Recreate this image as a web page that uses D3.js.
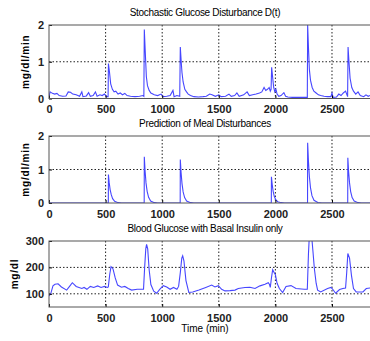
<!DOCTYPE html>
<html>
<head>
<meta charset="utf-8">
<script src="https://cdn.jsdelivr.net/npm/d3@7"></script>
<style>
  body { margin: 0; background: #fff; }
  text { font-family: "Liberation Sans", Arial, sans-serif; }
</style>
</head>
<body>
<div class="graphContainer"></div>
<script>
// data: [time (min), value]
var disturbance = [
  [0,0.05],[10,0.18],[30,0.14],[50,0.12],[70,0.14],[90,0.08],[120,0.06],[150,0.07],[170,0.18],[190,0.17],
  [210,0.12],[240,0.10],[270,0.06],[290,0.18],[300,0.05],[330,0.07],[350,0.16],[365,0.06],[390,0.08],[410,0.18],
  [425,0.06],[450,0.10],[470,0.08],[490,0.12],[510,0.05],[522,0.05],[525,0.95],[535,0.7],[545,0.4],[560,0.25],
  [575,0.18],[590,0.20],[610,0.12],[630,0.15],[650,0.10],[670,0.14],[690,0.08],[720,0.06],[760,0.05],[800,0.06],
  [830,0.08],[838,0.06],[842,1.88],[850,1.3],[860,0.6],[870,0.35],[885,0.22],[900,0.15],[930,0.10],[960,0.08],
  [990,0.12],[1010,0.05],[1040,0.06],[1070,0.08],[1095,0.22],[1105,0.05],[1130,0.08],[1155,0.06],[1160,1.4],[1168,1.0],
  [1175,0.7],[1185,0.45],[1200,0.25],[1215,0.18],[1230,0.12],[1250,0.08],[1280,0.05],[1320,0.04],[1360,0.05],[1390,0.06],
  [1420,0.12],[1440,0.10],[1470,0.06],[1500,0.10],[1520,0.05],[1560,0.06],[1590,0.12],[1610,0.06],[1640,0.08],[1660,0.15],
  [1680,0.06],[1720,0.10],[1750,0.18],[1770,0.08],[1800,0.10],[1830,0.12],[1860,0.15],[1880,0.18],[1900,0.30],[1915,0.22],
  [1930,0.25],[1945,0.30],[1955,0.20],[1962,0.25],[1967,0.85],[1975,0.6],[1985,0.3],[1995,0.18],[2005,0.25],[2015,0.12],
  [2030,0.06],[2050,0.08],[2075,0.16],[2090,0.06],[2110,0.04],[2150,0.03],[2200,0.03],[2250,0.03],[2282,0.03],[2285,2.0],
  [2292,1.4],[2300,0.8],[2310,0.5],[2325,0.3],[2340,0.2],[2360,0.15],[2380,0.10],[2400,0.08],[2430,0.06],[2460,0.05],
  [2490,0.05],[2500,0.15],[2510,0.03],[2540,0.04],[2560,0.12],[2580,0.08],[2600,0.15],[2620,0.20],[2638,0.05],[2642,1.4],
  [2650,1.0],[2660,0.55],[2675,0.3],[2690,0.2],[2710,0.12],[2730,0.18],[2750,0.08],[2780,0.05],[2800,0.1],[2820,0.06],
  [2850,0.10],[2880,0.08]
];

var prediction = [
  [0,0],[524,0],[525,0.85],[532,0.6],[540,0.4],[550,0.25],[562,0.13],[580,0.05],[610,0.01],[640,0],
  [841,0],[842,1.38],[849,0.95],[857,0.6],[867,0.35],[880,0.17],[898,0.06],[930,0.01],[960,0],
  [1159,0],[1160,1.3],[1167,0.9],[1175,0.58],[1185,0.33],[1198,0.16],[1216,0.06],[1250,0.01],[1280,0],
  [1964,0],[1965,0.78],[1972,0.55],[1980,0.35],[1990,0.2],[2003,0.1],[2020,0.04],[2050,0.01],[2080,0],
  [2284,0],[2285,1.8],[2292,1.25],[2300,0.8],[2310,0.46],[2323,0.22],[2341,0.08],[2375,0.015],[2410,0],
  [2639,0],[2640,1.35],[2647,0.93],[2655,0.6],[2665,0.34],[2678,0.16],[2696,0.06],[2730,0.01],[2760,0],
  [2880,0]
];

var glucose = [
  [0,92],[15,100],[35,130],[53,136],[80,138],[110,126],[156,114],[185,130],[206,142],[240,128],
  [290,120],[310,124],[335,117],[365,128],[395,124],[430,130],[460,124],[490,128],[515,124],[524,126],
  [537,175],[548,203],[565,195],[585,160],[606,133],[640,125],[670,128],[700,120],[730,114],[780,117],
  [835,117],[845,200],[855,270],[862,287],[872,270],[885,190],[900,135],[925,110],[951,102],[980,118],
  [1010,131],[1040,126],[1070,117],[1100,124],[1130,117],[1145,128],[1160,180],[1173,235],[1181,244],[1192,225],
  [1210,150],[1235,105],[1270,107],[1325,114],[1385,124],[1437,133],[1466,126],[1496,131],[1525,117],[1555,111],
  [1600,112],[1643,114],[1672,120],[1731,124],[1775,125],[1820,120],[1864,130],[1908,136],[1937,142],[1948,135],
  [1955,124],[1965,160],[1976,191],[1990,180],[2000,172],[2015,140],[2035,120],[2064,105],[2094,128],[2138,131],
  [2182,120],[2255,117],[2282,117],[2292,250],[2300,320],[2320,320],[2332,260],[2344,197],[2360,140],[2373,114],
  [2400,107],[2461,120],[2491,124],[2505,118],[2532,102],[2567,116],[2596,120],[2620,122],[2630,180],[2640,253],
  [2655,235],[2672,170],[2690,120],[2714,107],[2773,107],[2803,120],[2840,122],[2880,140]
];

var titles = ["Stochastic Glucose Disturbance D(t)", "Prediction of Meal Disturbances", "Blood Glucose with Basal Insulin only"];
var yLabels = ["mg/dl/min", "mg/dl/min", "mg/dl"];
var xTicks = [0, 500, 1000, 1500, 2000, 2500];
var yTicksD = [0, 1, 2];
var yTicksG = [100, 200, 300];

var width = 370;
var height = 341;
var left = 49;
var right = 375;

var svg = d3
  .select(".graphContainer")
  .append("svg")
  .attr("width", width)
  .attr("height", height);

var xScale = d3.scaleLinear().domain([0, 2880]).range([left, right]);

var panels = [
  { data: disturbance, top: 25, bottom: 98.5, domain: [0, 2], ticks: yTicksD, grid: [1], labelX: 29 },
  { data: prediction, top: 136, bottom: 203, domain: [0, 2], ticks: yTicksD, grid: [1], labelX: 29 },
  { data: glucose, top: 241, bottom: 307, domain: [50, 300], ticks: yTicksG, grid: [100, 200], labelX: 18 }
];

panels.forEach(function (p, i) {
  var yScale = d3.scaleLinear().domain(p.domain).range([p.bottom, p.top]);
  var g = svg.append("g");

  // clip
  svg
    .append("clipPath")
    .attr("id", "clip" + i)
    .append("rect")
    .attr("x", left)
    .attr("y", p.top)
    .attr("width", right - left)
    .attr("height", p.bottom - p.top);

  // grid
  g.selectAll(".vgrid")
    .data(xTicks.slice(1))
    .enter()
    .append("line")
    .attr("x1", (d) => xScale(d))
    .attr("x2", (d) => xScale(d))
    .attr("y1", p.top)
    .attr("y2", p.bottom)
    .attr("stroke", "#222")
    .attr("stroke-width", 1)
    .attr("stroke-dasharray", "1.5,2");
  g.selectAll(".hgrid")
    .data(p.grid)
    .enter()
    .append("line")
    .attr("x1", left)
    .attr("x2", right)
    .attr("y1", (d) => yScale(d))
    .attr("y2", (d) => yScale(d))
    .attr("stroke", "#222")
    .attr("stroke-width", 1)
    .attr("stroke-dasharray", "1.5,2");

  // line
  var line = d3
    .line()
    .x((d) => xScale(d[0]))
    .y((d) => yScale(d[1]));
  g.append("path")
    .datum(p.data)
    .attr("d", line)
    .attr("clip-path", "url(#clip" + i + ")")
    .attr("fill", "none")
    .attr("stroke", "#4646ff")
    .attr("stroke-width", 1.1);

  // axes
  var xAxis = d3.axisBottom(xScale).tickValues(xTicks).tickFormat(d3.format("d")).tickSizeInner(-3).tickSizeOuter(0).tickPadding(7);
  var yAxis = d3.axisLeft(yScale).tickValues(p.ticks).tickFormat(d3.format("d")).tickSizeInner(-3).tickSizeOuter(0).tickPadding(5);

  g.append("g")
    .attr("transform", "translate(0," + p.bottom + ")")
    .call(xAxis)
    .call((a) => a.select(".domain").remove())
    .selectAll("text")
    .style("font-size", "11px")
    .style("font-weight", "bold")
    .attr("fill", "#222");
  g.append("g")
    .attr("transform", "translate(" + left + ",0)")
    .call(yAxis)
    .call((a) => a.select(".domain").remove())
    .selectAll("text")
    .style("font-size", "11px")
    .style("font-weight", "bold")
    .attr("fill", "#222");

  // box
  g.append("rect")
    .attr("x", left)
    .attr("y", p.top)
    .attr("width", right - left)
    .attr("height", p.bottom - p.top)
    .attr("fill", "none")
    .attr("stroke", "#555")
    .attr("stroke-width", 1);

  // title
  g.append("text")
    .attr("x", 205)
    .attr("y", p.top - 9)
    .attr("text-anchor", "middle")
    .style("font-size", "10px")
    .style("letter-spacing", "-0.3px")
    .text(titles[i]);

  // y label
  g.append("text")
    .attr("transform", "translate(" + p.labelX + "," + (p.top + p.bottom) / 2 + ") rotate(-90)")
    .attr("text-anchor", "middle")
    .style("font-size", "10px")
    .style("font-weight", "bold")
    .style("letter-spacing", "0.8px")
    .text(yLabels[i]);
});

svg
  .append("text")
  .attr("x", 205)
  .attr("y", 332)
  .attr("text-anchor", "middle")
  .style("font-size", "10px")
  .text("Time (min)");
</script>
</body>
</html>
